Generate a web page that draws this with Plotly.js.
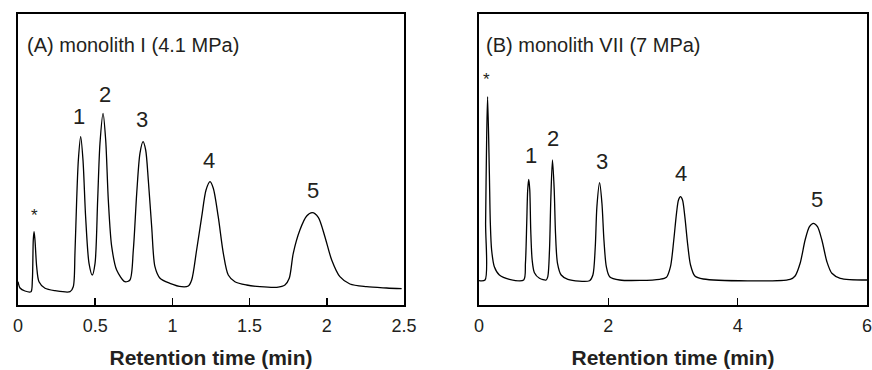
<!DOCTYPE html>
<html>
<head>
<meta charset="utf-8">
<script src="https://cdn.plot.ly/plotly-3.0.1.min.js"></script>
<style>html,body{margin:0;padding:0;background:#fff;}#chart{width:872px;height:370px;}</style>
</head>
<body>
<div id="chart"></div>
<script>
// Panel A: monolith I (4.1 MPa) — retention time (min) and detector signal (a.u.)
var timeA = [0.000,0.013,0.045,0.084,0.093,0.099,0.104,0.110,0.121,0.136,0.175,0.240,0.337,0.358,0.369,0.380,0.391,0.406,0.421,0.438,0.460,0.481,0.499,0.516,0.531,0.551,0.568,0.585,0.607,0.639,0.693,0.725,0.747,0.769,0.790,0.810,0.827,0.844,0.866,0.887,0.920,0.984,1.060,1.103,1.125,1.157,1.190,1.218,1.244,1.265,1.297,1.330,1.362,1.405,1.481,1.567,1.676,1.729,1.757,1.783,1.826,1.870,1.906,1.945,1.988,2.032,2.085,2.150,2.258,2.388,2.485];
var signalA = [23.3,17,14,13.3,25,65,73.3,65,38.3,23.3,16.7,14.3,13.3,18.3,52,105,145,168.3,145,88.3,41.7,30,41.7,105,161.7,191.7,165,105,58.3,35,23.3,25,55,111.7,151.7,163.3,155,125,78.3,38.3,26.7,21.7,18.3,19,25,55,88.3,115,123.3,116.7,88.3,51.7,30,23.3,20,18.3,17.7,20,26.7,51.7,75,89,92.3,87.7,68.3,45,28.3,21,18.3,17,16.3];

// Panel B: monolith VII (7 MPa)
var timeB = [0.000,0.093,0.102,0.118,0.133,0.160,0.175,0.195,0.237,0.315,0.470,0.691,0.718,0.738,0.753,0.769,0.785,0.800,0.822,0.857,0.935,1.039,1.064,1.090,1.110,1.136,1.163,1.183,1.214,1.271,1.374,1.710,1.761,1.798,1.823,1.865,1.901,1.932,1.969,2.020,2.175,2.795,2.899,2.961,3.012,3.054,3.085,3.116,3.147,3.183,3.225,3.271,3.338,3.467,4.811,4.888,4.966,5.043,5.110,5.172,5.234,5.302,5.380,5.457,5.586,6.000];
var signalB = [24.3,25,82,165,208.3,132,82,55,38.3,30,25.7,25,41.7,81.7,115,125.7,115,75,45,32.3,26.7,25,28.3,55,105,145,115,71.7,41.7,30,25.7,24.3,30,58.3,98.3,122.3,101.7,65,38.3,28.3,25,25.7,27.7,38.3,65,91.7,105,108.3,105,88.3,61.7,40,29,26,25.7,29,41.7,65,78.3,81.7,78.3,65,43.3,31.7,26.7,25];

// Peak labels
var peakLabels = ["*","1","2","3","4","5"];
var peakTimesA = [0.104,0.395,0.565,0.800,1.240,1.912];
var peakTimesB = [0.120,0.800,1.150,1.900,3.120,5.220];
var ticksA = [0,0.5,1,1.5,2,2.5];
var ticksB = [0,2,4,6];
var panelTitles = ["(A) monolith I (4.1 MPa)","(B) monolith VII (7 MPa)"];
var xTitle = "Retention time (min)";

var FONT = "Liberation Sans, Arial, sans-serif";
var TXT = "#231f20";

var traces = [
  {x: timeA, y: signalA, xaxis: "x", yaxis: "y", type: "scatter", mode: "lines",
   line: {color: "#000", width: 1.3, shape: "spline", smoothing: 0.8}, hoverinfo: "skip"},
  {x: timeB, y: signalB, xaxis: "x2", yaxis: "y2", type: "scatter", mode: "lines",
   line: {color: "#000", width: 1.3, shape: "spline", smoothing: 0.8}, hoverinfo: "skip"}
];

// label heights above each peak maximum (signal units)
var offA = [16, 20, 19, 22, 21, 22];
var offB = [17, 24, 22, 21, 23, 24];
var annotations = [];
function peakMax(times, sig, t){
  var m = 0;
  for (var i=0;i<times.length;i++){ if (Math.abs(times[i]-t) < 0.06 && sig[i] > m) m = sig[i]; }
  return m;
}
for (var i=0;i<peakLabels.length;i++){
  var star = peakLabels[i] === "*";
  annotations.push({xref:"x", yref:"y", x: peakTimesA[i], y: peakMax(timeA, signalA, peakTimesA[i]) + offA[i],
    text: peakLabels[i], showarrow:false, yanchor:"middle",
    font:{family:FONT, size: star?17:22, color:TXT}});
  annotations.push({xref:"x2", yref:"y2", x: peakTimesB[i], y: peakMax(timeB, signalB, peakTimesB[i]) + offB[i],
    text: peakLabels[i], showarrow:false, yanchor:"middle",
    font:{family:FONT, size: star?17:22, color:TXT}});
}
annotations.push({xref:"x domain", yref:"paper", x:0.018, y:0.893, text: panelTitles[0], showarrow:false,
  xanchor:"left", yanchor:"middle", font:{family:FONT, size:20, color:TXT}});
annotations.push({xref:"x2 domain", yref:"paper", x:0.012, y:0.893, text: panelTitles[1], showarrow:false,
  xanchor:"left", yanchor:"middle", font:{family:FONT, size:20, color:TXT}});

function xax(domain, range, ticks, anchor){
  return {domain: domain, range: range, tickvals: ticks, ticktext: ticks.map(String),
    showline: true, mirror: true, linecolor: "#000", linewidth: 2,
    ticks: "inside", ticklen: 7, tickwidth: 1.5, tickcolor: "#000",
    showgrid: false, zeroline: false, anchor: anchor, fixedrange: true,
    ticklabelstandoff: 3, ticklabeloverflow: "allow",
    tickfont: {family: FONT, size: 18, color: TXT},
    title: {text: xTitle, standoff: 16, font: {family: FONT, size: 21, color: TXT, weight: "bold"}}};
}
function yax(anchor){
  return {domain: [0,1], range: [0, 291], showline: true, mirror: true, linecolor: "#000", linewidth: 2,
    showticklabels: false, ticks: "", showgrid: false, zeroline: false, anchor: anchor, fixedrange: true};
}

var layout = {
  width: 872, height: 370,
  margin: {l: 18, r: 5, t: 14, b: 65},
  paper_bgcolor: "#fff", plot_bgcolor: "#fff",
  showlegend: false,
  font: {family: FONT, color: TXT},
  xaxis: xax([0, 0.4546], [0, 2.5], ticksA, "y"),
  xaxis2: xax([0.5430, 1], [0, 6], ticksB, "y2"),
  yaxis: yax("x"),
  yaxis2: yax("x2"),
  annotations: annotations
};

Plotly.newPlot("chart", traces, layout, {displayModeBar: false, staticPlot: true});
</script>
</body>
</html>
